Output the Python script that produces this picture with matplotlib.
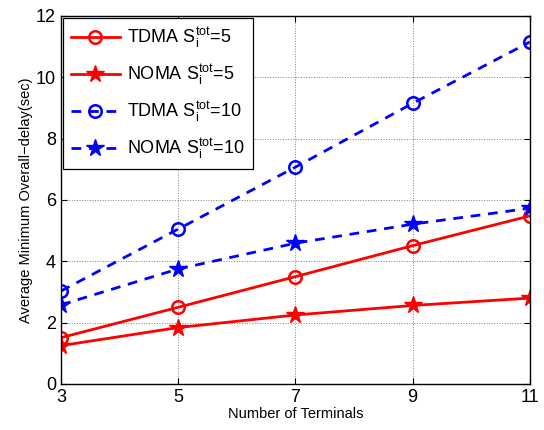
import matplotlib
matplotlib.use("Agg")
import matplotlib.pyplot as plt

plt.rcParams['font.family'] = ['Liberation Sans', 'DejaVu Sans']
plt.rcParams['mathtext.fontset'] = 'custom'
plt.rcParams['mathtext.rm'] = 'Liberation Sans'
plt.rcParams['mathtext.it'] = 'Liberation Sans'

terminals = [3, 5, 7, 9, 11]
tdma_5 = [1.51, 2.50, 3.50, 4.51, 5.48]
noma_5 = [1.25, 1.84, 2.25, 2.56, 2.80]
tdma_10 = [3.03, 5.05, 7.07, 9.15, 11.15]
noma_10 = [2.58, 3.75, 4.59, 5.21, 5.73]
yticks = [0, 2, 4, 6, 8, 10, 12]

fig = plt.figure(figsize=(5.44, 4.30), dpi=100)
ax = fig.add_axes([0.112, 0.107, 0.862, 0.856])

lw = 2.0
ax.plot(terminals, tdma_5, color='red', ls='-', lw=lw, marker='o', ms=9,
        mfc='none', mew=1.8, label=r'TDMA $\mathrm{S_i^{tot}}$=5')
ax.plot(terminals, noma_5, color='red', ls='-', lw=lw, marker='*', ms=13,
        label=r'NOMA $\mathrm{S_i^{tot}}$=5')
ax.plot(terminals, tdma_10, color='blue', ls='--', lw=lw, marker='o', ms=9,
        mfc='none', mew=1.8, dashes=(3.5, 2.8), label=r'TDMA $\mathrm{S_i^{tot}}$=10')
ax.plot(terminals, noma_10, color='blue', ls='--', lw=lw, marker='*', ms=13,
        dashes=(3.5, 2.8), label=r'NOMA $\mathrm{S_i^{tot}}$=10')

ax.set_xlim(3, 11)
ax.set_ylim(0, 12)
ax.set_xticks(terminals)
ax.set_yticks(yticks)
ax.tick_params(direction='in', labelsize=13, length=4, top=True, right=True)
ax.grid(True, ls=':', color='black', lw=0.7, alpha=0.5)
ax.set_xlabel('Number of Terminals', fontsize=10.5, labelpad=1)
ax.set_ylabel('Average Minimum Overall\u2212delay(sec)', fontsize=10.5, labelpad=2)
for s in ax.spines.values():
    s.set_linewidth(1.0)

leg = ax.legend(loc='upper left', fontsize=13, frameon=True, fancybox=False,
                edgecolor='black', framealpha=1, borderaxespad=0.1,
                handlelength=2.7, labelspacing=0.68, borderpad=0.45,
                handletextpad=0.4)
leg.get_frame().set_linewidth(0.9)

fig.savefig('out.png', dpi=100)
